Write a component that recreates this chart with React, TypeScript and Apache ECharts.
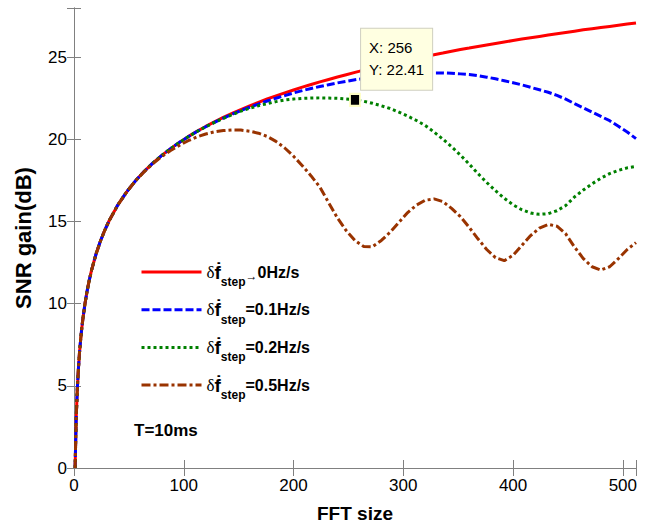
import React, { useEffect, useRef } from 'react';
import * as echarts from 'echarts';

const fftSize = [
  1, 2, 3, 4, 5, 6, 7, 8, 10, 12, 14, 16, 20, 24, 28, 32, 40, 48, 56, 64, 72, 80, 88, 96,
  104, 112, 120, 128, 136, 144, 152, 160, 168, 176, 184, 192, 200, 208, 216, 224, 232, 240,
  248, 256, 264, 272, 280, 288, 296, 304, 312, 320, 328, 336, 344, 352, 360, 368, 376, 384,
  392, 400, 408, 416, 424, 432, 440, 448, 456, 464, 472, 480, 488, 496, 504, 512,
];

const gainRate0 = [
  0, 3.01, 4.77, 6.02, 6.99, 7.78, 8.45, 9.03, 10.0, 10.79, 11.46, 12.04, 13.01, 13.8, 14.47, 15.05, 16.02, 16.81, 17.48, 18.06, 18.57, 19.03, 19.44, 19.82,
  20.17, 20.49, 20.79, 21.07, 21.34, 21.58, 21.82, 22.04, 22.25, 22.46, 22.65, 22.83, 23.01, 23.18, 23.34, 23.5, 23.65, 23.8,
  23.94, 24.08, 24.22, 24.35, 24.47, 24.59, 24.71, 24.83, 24.94, 25.05, 25.16, 25.26, 25.37, 25.47, 25.56, 25.66, 25.75, 25.84,
  25.93, 26.02, 26.11, 26.19, 26.27, 26.35, 26.43, 26.51, 26.59, 26.67, 26.74, 26.81, 26.88, 26.95, 27.02, 27.09,
];

const gainRate01 = [
  0, 3.01, 4.77, 6.02, 6.99, 7.78, 8.45, 9.03, 10.0, 10.79, 11.46, 12.04, 13.01, 13.8, 14.47, 15.05, 16.02, 16.81, 17.48, 18.06, 18.57, 19.03, 19.44, 19.82,
  20.16, 20.48, 20.77, 21.04, 21.3, 21.53, 21.76, 21.96, 22.15, 22.34, 22.51, 22.67, 22.83, 22.97, 23.1, 23.22, 23.33, 23.44,
  23.54, 23.63, 23.71, 23.78, 23.84, 23.89, 23.94, 23.98, 24.01, 24.03, 24.05, 24.05, 24.03, 23.99, 23.95, 23.88, 23.79, 23.69,
  23.57, 23.45, 23.32, 23.17, 23.02, 22.87, 22.68, 22.45, 22.18, 21.92, 21.66, 21.4, 21.14, 20.8, 20.45, 20.05,
];

const gainRate02 = [
  0, 3.01, 4.77, 6.02, 6.99, 7.78, 8.45, 9.03, 10.0, 10.79, 11.46, 12.04, 13.01, 13.8, 14.47, 15.05, 16.02, 16.81, 17.48, 18.06, 18.57, 19.03, 19.44, 19.82,
  20.16, 20.48, 20.77, 21.04, 21.28, 21.5, 21.72, 21.9, 22.05, 22.18, 22.3, 22.4, 22.46, 22.5, 22.52, 22.53, 22.52, 22.5,
  22.46, 22.41, 22.32, 22.2, 22.05, 21.88, 21.66, 21.42, 21.15, 20.85, 20.45, 20.02, 19.55, 19.05, 18.5, 17.92, 17.38, 16.88,
  16.42, 16.02, 15.72, 15.52, 15.44, 15.48, 15.66, 15.98, 16.5, 16.92, 17.3, 17.64, 17.92, 18.12, 18.27, 18.36,
];

const gainRate05 = [
  0, 3.01, 4.77, 6.02, 6.99, 7.78, 8.45, 9.03, 10.0, 10.79, 11.46, 12.04, 13.01, 13.8, 14.47, 15.05, 16.02, 16.81, 17.48, 18.04, 18.53, 18.96, 19.33, 19.64,
  19.92, 20.15, 20.33, 20.46, 20.54, 20.58, 20.57, 20.5, 20.38, 20.18, 19.88, 19.48, 18.98, 18.4, 17.78, 17.1, 16.15, 15.22,
  14.45, 13.85, 13.48, 13.47, 13.85, 14.35, 14.95, 15.55, 16.0, 16.3, 16.38, 16.22, 15.8, 15.3, 14.65, 13.95, 13.3, 12.8,
  12.62, 12.95, 13.55, 14.15, 14.6, 14.83, 14.72, 14.25, 13.45, 12.75, 12.25, 12.05, 12.25, 12.75, 13.3, 13.72,
];

const seriesValues = [gainRate0, gainRate01, gainRate02, gainRate05];
const seriesNames = ['rate0', 'rate01', 'rate02', 'rate05'];
const seriesColors = ['#FF0000', '#0000FF', '#008000', '#993300'];
const seriesDash: any[] = ['solid', [8, 3], [3, 3], [9, 3, 3, 3]];
const legendSuffixes = ['0Hz/s', '=0.1Hz/s', '=0.2Hz/s', '=0.5Hz/s'];
const xTicks = [0, 100, 200, 300, 400, 500];
const yTicks = [0, 5, 10, 15, 20, 25];
const datatip = [256, 22.41];

const FONT = '"Liberation Sans", Arial, Helvetica, sans-serif';
const AXIS_GRAY = '#808080';

export default function App() {
  const ref = useRef<HTMLDivElement>(null);

  useEffect(() => {
    const chart = echarts.init(ref.current!, null, { renderer: 'svg' });

    const series: any[] = seriesValues.map((vals, i) => {
      const s: any = {
        name: seriesNames[i],
        type: 'line',
        xAxisIndex: 0,
        yAxisIndex: 0,
        symbol: 'none',
        showSymbol: false,
        silent: true,
        data: fftSize.map((x, k) => [x, vals[k]]),
        lineStyle: { color: seriesColors[i], width: 3, type: seriesDash[i], cap: 'butt' },
        itemStyle: { color: seriesColors[i] },
        z: 2 + i,
      };
      if (i === 2) {
        s.markPoint = {
          silent: true,
          symbol: 'rect',
          symbolSize: [10, 12],
          itemStyle: { color: '#000', borderColor: '#FFFFC4', borderWidth: 2 },
          data: [{ coord: datatip, value: datatip[1] }],
          label: {
            show: true,
            position: [12, -64],
            align: 'left',
            verticalAlign: 'top',
            formatter: () => `X: ${datatip[0]}\nY: ${datatip[1]}`,
            fontFamily: FONT,
            fontSize: 15,
            lineHeight: 22,
            color: '#000',
            backgroundColor: '#FFFFE1',
            borderColor: '#CFCFC0',
            borderWidth: 1,
            padding: [8, 8, 9, 8],
          },
        };
      }
      return s;
    });

    const axisCommon = (ticks: number[]) => ({
      axisLine: { show: true, lineStyle: { color: AXIS_GRAY, width: 1 } },
      splitLine: { show: false },
      axisLabel: {
        color: '#000',
        fontFamily: FONT,
        fontSize: 17,
        formatter: (v: number) => (ticks.indexOf(v) >= 0 ? String(v) : ''),
      },
    });

    const option: any = {
      animation: false,
      backgroundColor: '#fff',
      grid: { left: 74, right: 9, top: 8, bottom: 57, containLabel: false },
      xAxis: [
        {
          type: 'value', position: 'bottom', min: 0, max: 512, interval: 100,
          ...axisCommon(xTicks),
          axisTick: { show: true, inside: true, length: 8, lineStyle: { color: AXIS_GRAY } },
          axisLabel: { ...axisCommon(xTicks).axisLabel, margin: 9 },
          name: 'FFT size', nameLocation: 'middle', nameGap: 36,
          nameTextStyle: { fontFamily: FONT, fontSize: 19, fontWeight: 'bold', color: '#000' },
        },
        {
          type: 'value', position: 'top', min: 0, max: 512, interval: 100,
          axisLine: { show: true, lineStyle: { color: AXIS_GRAY, width: 1 } },
          axisTick: { show: true, inside: true, length: 8, lineStyle: { color: AXIS_GRAY } },
          axisLabel: { show: false },
          splitLine: { show: false },
        },
      ],
      yAxis: [
        {
          type: 'value', position: 'left', min: 0, max: 28, interval: 5,
          ...axisCommon(yTicks),
          axisTick: { show: true, inside: true, length: 7, lineStyle: { color: AXIS_GRAY } },
          axisLabel: { ...axisCommon(yTicks).axisLabel, margin: 7 },
          name: 'SNR gain(dB)', nameLocation: 'middle', nameGap: 40,
          nameTextStyle: { fontFamily: FONT, fontSize: 22, fontWeight: 'bold', color: '#000' },
        },
        {
          type: 'value', position: 'right', min: 0, max: 28, interval: 5,
          axisLine: { show: true, lineStyle: { color: AXIS_GRAY, width: 1 } },
          axisTick: { show: true, inside: true, length: 7, lineStyle: { color: AXIS_GRAY } },
          axisLabel: { show: false },
          splitLine: { show: false },
        },
      ],
      legend: {
        show: true,
        orient: 'vertical',
        left: 140,
        top: 256,
        padding: 0,
        itemWidth: 60,
        itemHeight: 14,
        itemGap: 5.7,
        selectedMode: false,
        data: seriesNames,
        lineStyle: { width: 3 },
        itemStyle: { opacity: 0 },
        formatter: (name: string) => {
          const i = seriesNames.indexOf(name);
          const head = '{d|δ}{f|ḟ}{s|step}';
          return i === 0 ? `${head}{a|→}{t|${legendSuffixes[i]}}` : `${head}{t|${legendSuffixes[i]}}`;
        },
        textStyle: {
          color: '#000',
          fontFamily: FONT,
          rich: {
            d: { fontFamily: '"Liberation Serif", serif', fontSize: 17, color: '#000', lineHeight: 20, verticalAlign: 'middle' },
            f: { fontFamily: FONT, fontSize: 19, fontWeight: 'bold', color: '#000', lineHeight: 20, verticalAlign: 'middle' },
            s: { fontFamily: FONT, fontSize: 12, fontWeight: 'bold', color: '#000', lineHeight: 20, verticalAlign: 'middle', padding: [20, 0, 0, 0] },
            a: { fontFamily: FONT, fontSize: 12, fontWeight: 'bold', color: '#000', lineHeight: 20, verticalAlign: 'middle', padding: [8, 0, 0, 0] },
            t: { fontFamily: FONT, fontSize: 16, fontWeight: 'bold', color: '#000', lineHeight: 20, verticalAlign: 'middle' },
          },
        },
      },
      graphic: [
        {
          type: 'text',
          left: 134,
          top: 422,
          silent: true,
          style: { text: 'T=10ms', font: `bold 17px ${FONT}`, fill: '#000' },
        },
      ],
      series,
    };

    chart.setOption(option);
    return () => chart.dispose();
  }, []);

  return (
    <div
      ref={ref}
      style={{ position: 'fixed', left: 0, top: 0, width: 645, height: 528, background: '#fff' }}
    />
  );
}
